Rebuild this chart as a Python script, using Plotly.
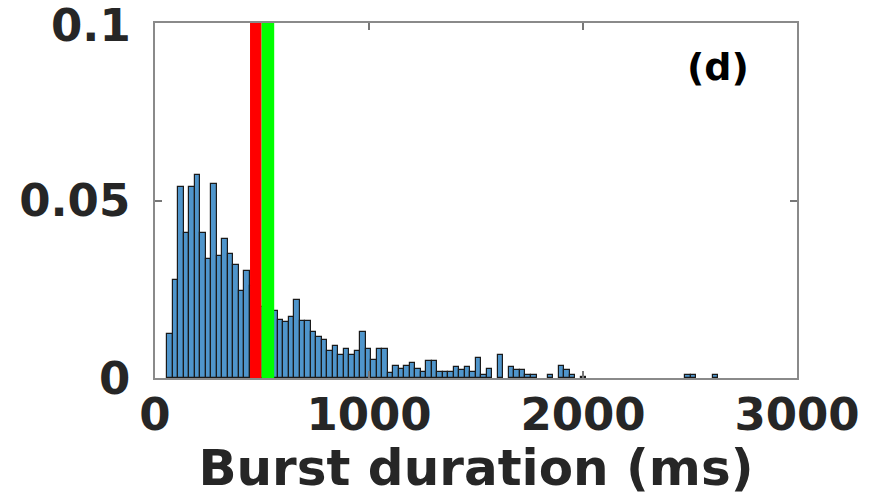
import plotly.graph_objects as go

# Histogram of burst durations (probability per bin)
BIN_START = 57.5      # ms, left edge of first bin
BIN_WIDTH = 25.75     # ms
probabilities = [
    0.0123, 0.0277, 0.0537, 0.0408, 0.0537, 0.0571, 0.0408, 0.0335, 0.0546, 0.0343,
    0.0392, 0.0350, 0.0318, 0.0246, 0.0302, 0.0260, 0.0220, 0.0200, 0.0190, 0.0188,
    0.0164, 0.0157, 0.0172, 0.0221, 0.0162, 0.0162, 0.0131, 0.0115, 0.0108, 0.0075,
    0.0091, 0.0066, 0.0083, 0.0066, 0.0075, 0.0131, 0.0082, 0.0050, 0.0082, 0.0082,
    0.0014, 0.0033, 0.0025, 0.0033, 0.0042, 0.0025, 0.0016, 0.0049, 0.0049, 0.0016,
    0.0016, 0.0016, 0.0031, 0.0023, 0.0031, 0.0016, 0.0056, 0.0009, 0.0025, 0.0,
    0.0066, 0.0, 0.0031, 0.0023, 0.0023, 0.0009, 0.0009, 0.0, 0.0, 0.0009,
    0.0, 0.0033, 0.0023, 0.0009, 0.0, 0.0003, 0.0, 0.0, 0.0, 0.0,
    0.0, 0.0, 0.0, 0.0, 0.0, 0.0, 0.0, 0.0, 0.0, 0.0,
    0.0, 0.0, 0.0, 0.0, 0.0009, 0.0009, 0.0, 0.0, 0.0, 0.0009,
]
bin_centers = [BIN_START + BIN_WIDTH * (i + 0.5) for i in range(len(probabilities))]
# empty bins are not drawn (no outline along the axis)
bar_heights = [v if v > 0 else None for v in probabilities]

# Marker bands (ms)
red_band = (444, 498)
green_band = (498, 557)

x_ticks = [0, 1000, 2000, 3000]
x_ticktext = ["0", "1000", "2000", "3000"]
y_ticks = [0, 0.05, 0.1]
y_ticktext = ["0", "0.05", ""]
y_top_label = "0.1"

FONT = "DejaVu Sans"
TEXT_COLOR = "#262626"

fig = go.Figure()
fig.add_trace(go.Bar(
    x=bin_centers, y=bar_heights, width=BIN_WIDTH,
    marker=dict(color="#4f95cb", line=dict(color="#1a1a1a", width=1.2)),
    showlegend=False, hoverinfo="skip",
))

fig.add_shape(type="rect", xref="x", yref="y", x0=red_band[0], x1=red_band[1],
              y0=0, y1=0.1, fillcolor="#ff0000", line=dict(width=0), layer="above")
fig.add_shape(type="rect", xref="x", yref="y", x0=green_band[0], x1=green_band[1],
              y0=0, y1=0.1, fillcolor="#00ff00", line=dict(width=0), layer="above")

fig.add_annotation(x=2630, y=0.0875, xref="x", yref="y", text="<b>(d)</b>",
                   showarrow=False, font=dict(family=FONT, size=38, color="black"))

# top y tick label drawn as annotation (plotly drops it at the paper edge)
fig.add_annotation(x=0, y=0.1, xref="paper", yref="y", text="<b>" + y_top_label + "</b>",
                   showarrow=False, xanchor="right", yanchor="middle",
                   xshift=-22, yshift=-2,
                   font=dict(family=FONT, size=45, color=TEXT_COLOR))

fig.update_layout(
    width=879, height=497,
    margin=dict(l=155, r=82, t=23, b=119),
    plot_bgcolor="white", paper_bgcolor="white",
    bargap=0,
    font=dict(family=FONT, color=TEXT_COLOR),
    xaxis=dict(
        range=[0, 3000], tickvals=x_ticks, ticktext=x_ticktext,
        ticks="inside", ticklen=7, tickwidth=1.5, tickcolor="#777777",
        showline=True, linecolor="#8a8a8a", linewidth=1.5, mirror="ticks",
        showgrid=False, zeroline=False, automargin=False, ticklabelstandoff=-4,
        tickfont=dict(family=FONT, size=45, color=TEXT_COLOR, weight="bold"),
        title=dict(text="<b>Burst duration (ms)</b>", standoff=10,
                   font=dict(family=FONT, size=50, color=TEXT_COLOR)),
    ),
    yaxis=dict(
        range=[0, 0.10001], tickvals=y_ticks, ticktext=y_ticktext,
        ticks="inside", ticklen=7, tickwidth=1.5, tickcolor="#777777",
        showline=True, linecolor="#8a8a8a", linewidth=1.5, mirror="ticks",
        showgrid=False, zeroline=False, ticklabelstandoff=14, automargin=False,
        tickfont=dict(family=FONT, size=45, color=TEXT_COLOR, weight="bold"),
    ),
)

fig.write_html("out.html", config={"displayModeBar": False},
               post_script="document.body.style.margin='0';document.body.style.overflow='hidden';")
